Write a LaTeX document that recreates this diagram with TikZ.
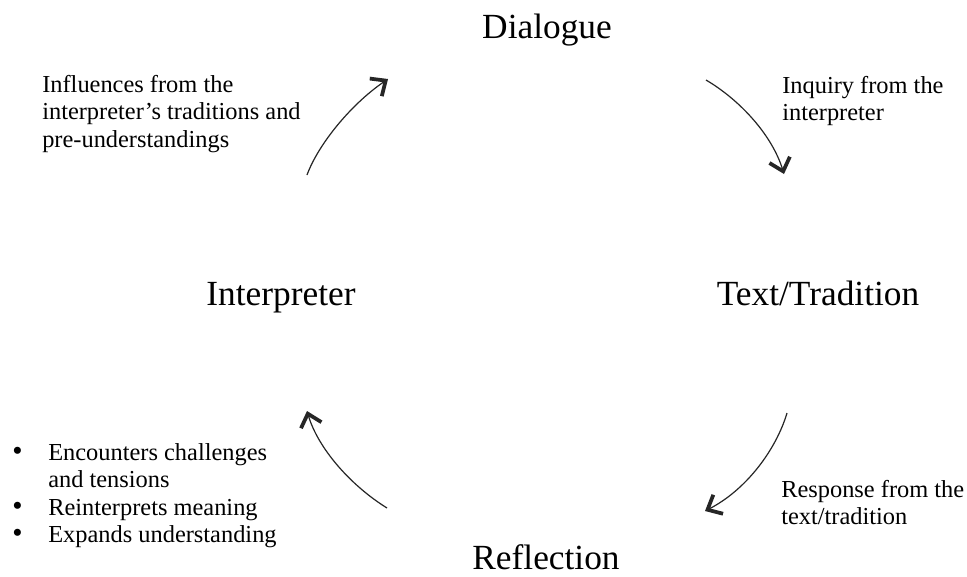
\documentclass[tikz,border=0pt]{standalone}
\usepackage{fontspec}
\setmainfont{Liberation Serif}
\usetikzlibrary{arrows.meta}
\newcommand{\bulletmark}{\makebox[27pt][l]{\fontsize{22}{20.6}\selectfont •}}
\begin{document}
\begin{tikzpicture}[x=0.75pt,y=-0.75pt,
  biglabel/.style={font=\fontsize{26.5}{30}\selectfont, inner sep=0pt, anchor=base},
  smalltext/.style={font=\fontsize{18.3}{20.6}\selectfont, inner sep=0pt, anchor=north west},
  cyclearrow/.style={line width=0.9pt, draw=black!85, -{Straight Barb[length=9pt,width=16pt,line width=2.8pt]}}
]
\useasboundingbox[fill=white] (0,0) rectangle (967,576);
% main labels
\node[biglabel] (dialogue) at (547,38) {Dialogue};
\node[biglabel] (interp) at (281,305) {Interpreter};
\node[biglabel] (text) at (818,305) {Text/Tradition};
\node[biglabel] (refl) at (546,569) {Reflection};
% side texts
\node[smalltext] (infl) at (42,72.8) {\begin{tabular}{@{}l@{}}Influences from the\\interpreter’s traditions and\\pre-understandings\end{tabular}};
\node[smalltext] (inq) at (782,73.8) {\begin{tabular}{@{}l@{}}Inquiry from the\\interpreter\end{tabular}};
\node[smalltext] (resp) at (781,477.8) {\begin{tabular}{@{}l@{}}Response from the\\text/tradition\end{tabular}};
\node[smalltext] (bul) at (12,440.8) {\begin{tabular}{@{}l@{}l@{}}\bulletmark&Encounters challenges\\&and tensions\\\bulletmark&Reinterprets meaning\\\bulletmark&Expands understanding\end{tabular}};
% arrows
\coordinate (a1s) at (307,175); \coordinate (a1e) at (388,79);
\coordinate (a2s) at (706,80);  \coordinate (a2e) at (784,174);
\coordinate (a3s) at (787,413); \coordinate (a3e) at (705,511);
\coordinate (a4s) at (387,508); \coordinate (a4e) at (307,411);
\draw[cyclearrow] (a1s) .. controls (318,145) and (350,105) .. (a1e);
\draw[cyclearrow] (a2s) .. controls (740,100) and (772,135) .. (a2e);
\draw[cyclearrow] (a3s) .. controls (776,450) and (746,490) .. (a3e);
\draw[cyclearrow] (a4s) .. controls (350,485) and (318,448) .. (a4e);
\end{tikzpicture}
\end{document}
